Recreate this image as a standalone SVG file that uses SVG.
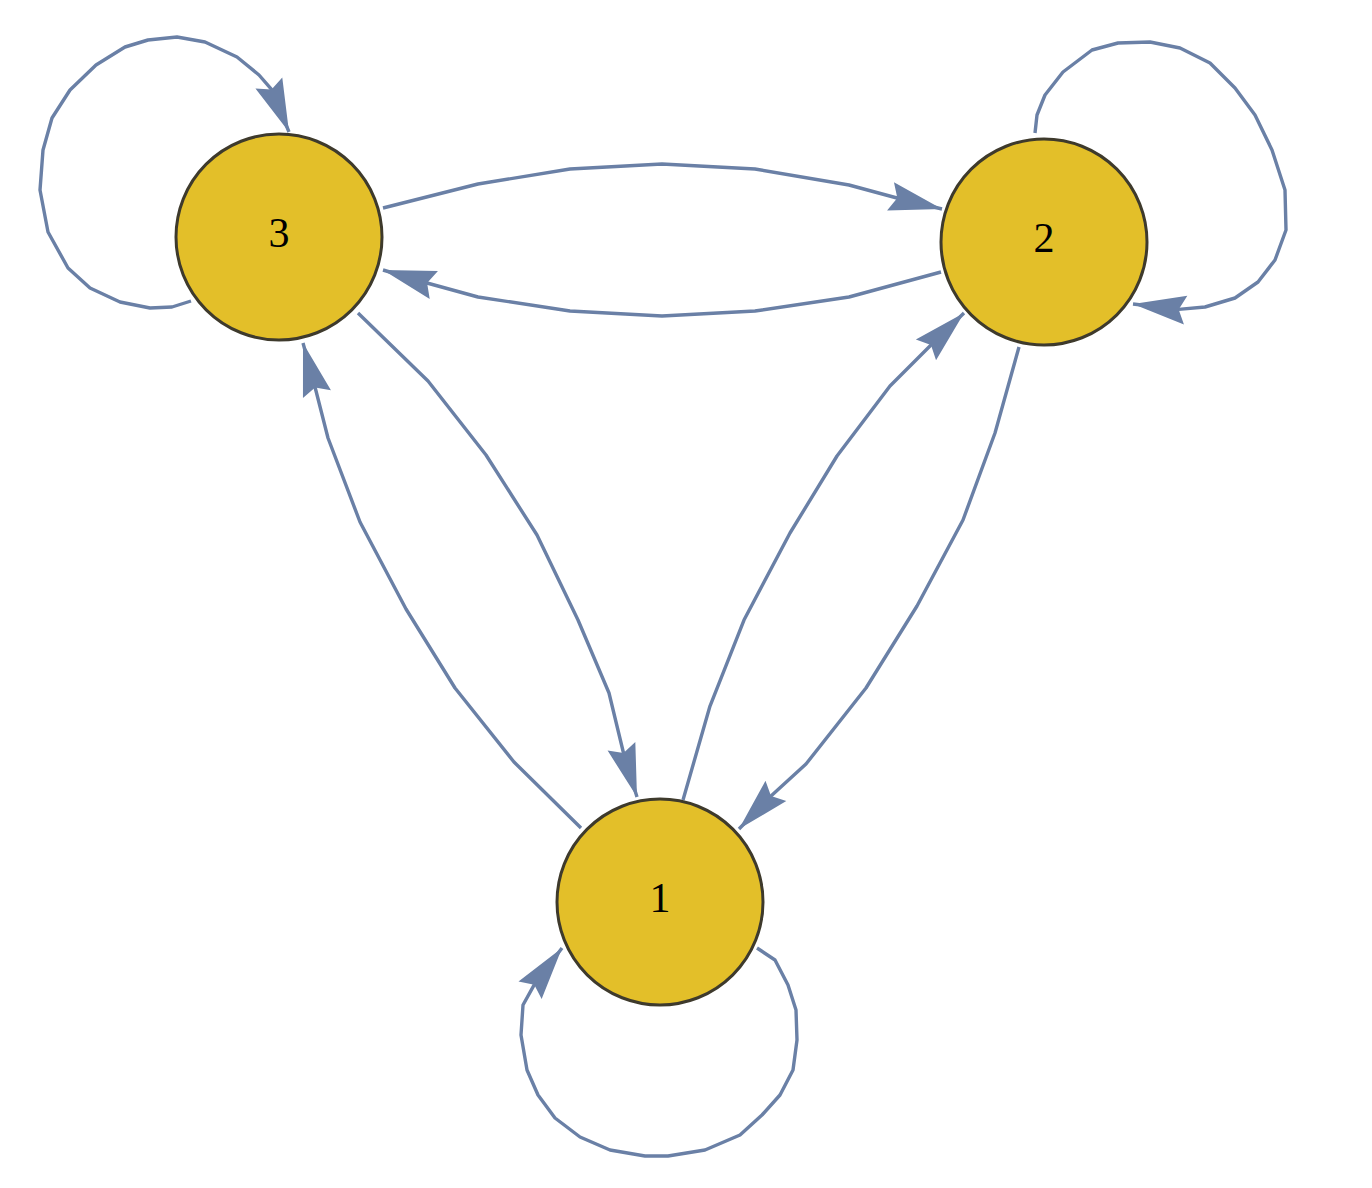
<svg xmlns="http://www.w3.org/2000/svg" width="1372" height="1188" viewBox="0 0 1372 1188">
<defs>
<marker id="arr" markerUnits="userSpaceOnUse" orient="auto" viewBox="-55 -16 57 32" refX="0" refY="0" markerWidth="57" markerHeight="32" overflow="visible">
<path d="M0,0 L-53,-14.5 L-46,0 L-53,14.5 Z" fill="#6a80a6"/>
</marker>
</defs>
<style>
.e{fill:none;stroke:#6a80a6;stroke-width:3.4;stroke-linejoin:round;marker-end:url(#arr)}
.n{fill:#e3bf29;stroke:#3e3a2c;stroke-width:3}
.t{font-family:"Liberation Serif","Times New Roman",serif;font-size:42px;fill:#000;text-anchor:middle}
</style>
<rect width="1372" height="1188" fill="#fff"/>
<g id="edges">
<polyline class="e" points="383,208 478,184 570,169 662,164 755,169 849,185 897,198 942,209"/>
<polyline class="e" points="941,272 849,297 755,311 662,316 570,311 478,297 427,283 383,270"/>
<polyline class="e" points="358,313 428,381 486,455 537,535 578,620 609,693 623.5,753 637,797"/>
<polyline class="e" points="581,828 514,762 455,688 406,609 360,522 328,438 315,387 303,343"/>
<polyline class="e" points="683,800 710,706 744,620 790,533 837,456 890,386 931,345 964,313"/>
<polyline class="e" points="1019,347 995,433 963,520 917,606 866,688 806,764 771,796 739,829"/>
<polyline class="e" points="191,301 172,307 150,308 120,302 90,288 68,268 48,232 40,190 43,150 52,118 70,90 96,65 125,47 148,40 177,37 205,42 237,57 259,75 271.5,89.4 289,132"/>
<polyline class="e" points="1035,133 1037,115 1045,95 1063,72 1092,50 1118,43 1150,42 1180,48 1210,63 1235,88 1255,115 1272,150 1285,190 1286,230 1275,260 1258,282 1235,298 1205,307 1178.7,309.4 1133,304"/>
<polyline class="e" points="757,948 775,960 788,985 796,1010 797,1040 793,1070 780,1095 762,1115 740,1135 705,1150 668,1156 645,1156 610,1150 580,1137 555,1118 538,1095 527,1070 521,1035 523,1005 534.3,984.7 562,948"/>
</g>
<g id="node3"><circle class="n" cx="279" cy="237" r="103"/><text class="t" x="279" y="247">3</text></g>
<g id="node2"><circle class="n" cx="1044" cy="242" r="103"/><text class="t" x="1044" y="252">2</text></g>
<g id="node1"><circle class="n" cx="660" cy="902" r="103"/><text class="t" x="660" y="912">1</text></g>
</svg>
